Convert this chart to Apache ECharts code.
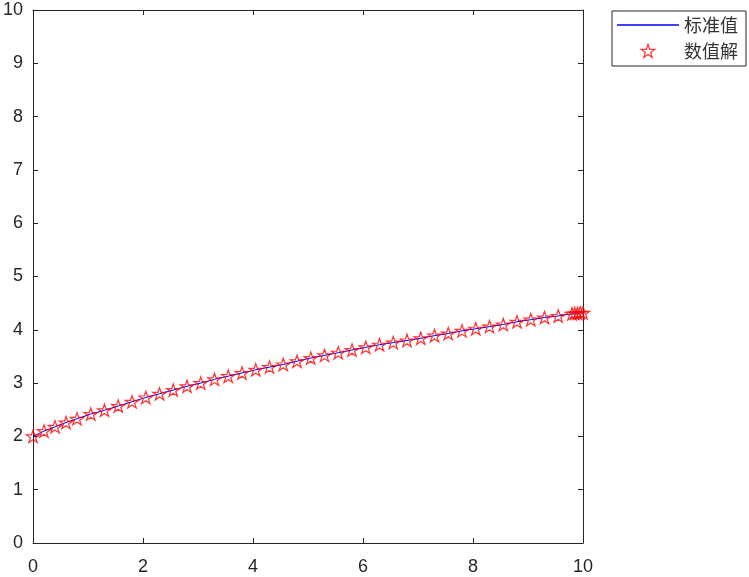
<!DOCTYPE html>
<html>
<head>
<meta charset="utf-8">
<script src="https://cdn.jsdelivr.net/npm/echarts@6/dist/echarts.min.js"></script>
<style>
html,body{margin:0;padding:0;background:#fff;}
#chart{width:749px;height:577px;}
</style>
</head>
<body>
<div id="chart"></div>
<script>
// ---- data ----
var xValues = [0, 0.2, 0.4, 0.6, 0.8, 1.05, 1.3, 1.55, 1.8, 2.05, 2.3, 2.55, 2.8, 3.05, 3.3, 3.55, 3.8, 4.05, 4.3, 4.55, 4.8, 5.05, 5.3, 5.55, 5.8, 6.05, 6.3, 6.55, 6.8, 7.05, 7.3, 7.55, 7.8, 8.05, 8.3, 8.55, 8.8, 9.05, 9.3, 9.55, 9.8, 9.85, 9.9, 9.95, 10];
var exactValues = [2.00, 2.10, 2.18, 2.26, 2.33, 2.42, 2.49, 2.57, 2.65, 2.73, 2.80, 2.87, 2.94, 3.00, 3.07, 3.13, 3.19, 3.25, 3.30, 3.35, 3.41, 3.47, 3.52, 3.57, 3.62, 3.67, 3.72, 3.76, 3.80, 3.84, 3.89, 3.93, 3.98, 4.02, 4.06, 4.10, 4.15, 4.19, 4.23, 4.26, 4.30, 4.31, 4.31, 4.32, 4.32];
var numericValues = [2.00, 2.10, 2.18, 2.26, 2.33, 2.42, 2.49, 2.57, 2.65, 2.73, 2.80, 2.87, 2.94, 3.00, 3.07, 3.13, 3.19, 3.25, 3.30, 3.35, 3.41, 3.47, 3.52, 3.57, 3.62, 3.67, 3.72, 3.76, 3.80, 3.84, 3.89, 3.93, 3.98, 4.02, 4.06, 4.10, 4.15, 4.19, 4.23, 4.26, 4.30, 4.31, 4.31, 4.32, 4.32];
var seriesNames = ['标准值', '数值解'];
var xTicks = {min: 0, max: 10, interval: 2};
var yTicks = {min: 0, max: 10, interval: 1};

var starPath = 'path://M50 0 L61.23 34.55 L97.55 34.55 L68.17 55.9 L79.39 90.45 L50 69.1 L20.61 90.45 L31.83 55.9 L2.45 34.55 L38.77 34.55 Z';
var lineIconPath = 'path://M0 0 L62 0 L62 1.4 L0 1.4 Z';

function pairs(xs, ys) {
  var out = [];
  for (var i = 0; i < xs.length; i++) out.push([xs[i], ys[i]]);
  return out;
}

var axisColor = '#262626';
var font = 'Liberation Sans, Arial, Helvetica, sans-serif';

function makeAxis(base, position, showLabel, margin) {
  return {
    type: 'value',
    position: position,
    min: base.min, max: base.max, interval: base.interval,
    axisLine: {show: true, onZero: false, lineStyle: {color: axisColor, width: 1}},
    axisTick: {show: true, inside: true, length: 5, lineStyle: {color: axisColor, width: 1}},
    axisLabel: {show: showLabel, color: axisColor, fontSize: 18, fontFamily: font, margin: margin},
    splitLine: {show: false}
  };
}

var chart = echarts.init(document.getElementById('chart'), null, {renderer: 'canvas'});
chart.setOption({
  animation: false,
  backgroundColor: '#ffffff',
  grid: {left: 32, top: 10, right: 166, bottom: 34, containLabel: false},
  xAxis: [makeAxis(xTicks, 'bottom', true, 15), makeAxis(xTicks, 'top', false, 8)],
  yAxis: [makeAxis(yTicks, 'left', true, 10), makeAxis(yTicks, 'right', false, 8)],
  legend: {
    orient: 'vertical',
    left: 612, top: 11,
    padding: [5, 8, 6, 5],
    itemWidth: 62, itemHeight: 13, itemGap: 8,
    symbolKeepAspect: true,
    backgroundColor: '#ffffff',
    borderColor: axisColor, borderWidth: 1, borderRadius: 0,
    textStyle: {color: '#333333', fontSize: 18, lineHeight: 18, fontFamily: 'Noto Sans CJK SC, sans-serif'},
    data: [
      {name: seriesNames[0], icon: lineIconPath, itemStyle: {color: '#0000ff', borderWidth: 0}},
      {name: seriesNames[1], icon: starPath, itemStyle: {color: 'rgba(0,0,0,0)', borderColor: '#ff0000', borderWidth: 1.2}}
    ]
  },
  series: [
    {
      name: seriesNames[0], type: 'line',
      data: pairs(xValues, exactValues),
      showSymbol: false, symbol: 'none',
      lineStyle: {color: '#0000ff', width: 1},
      itemStyle: {color: '#0000ff'},
      z: 2
    },
    {
      name: seriesNames[1], type: 'scatter',
      data: pairs(xValues, numericValues),
      symbol: starPath, symbolSize: [13.5, 13], symbolKeepAspect: true,
      itemStyle: {color: 'rgba(0,0,0,0)', borderColor: '#ff0000', borderWidth: 1.2},
      z: 3
    }
  ]
});
</script>
</body>
</html>
